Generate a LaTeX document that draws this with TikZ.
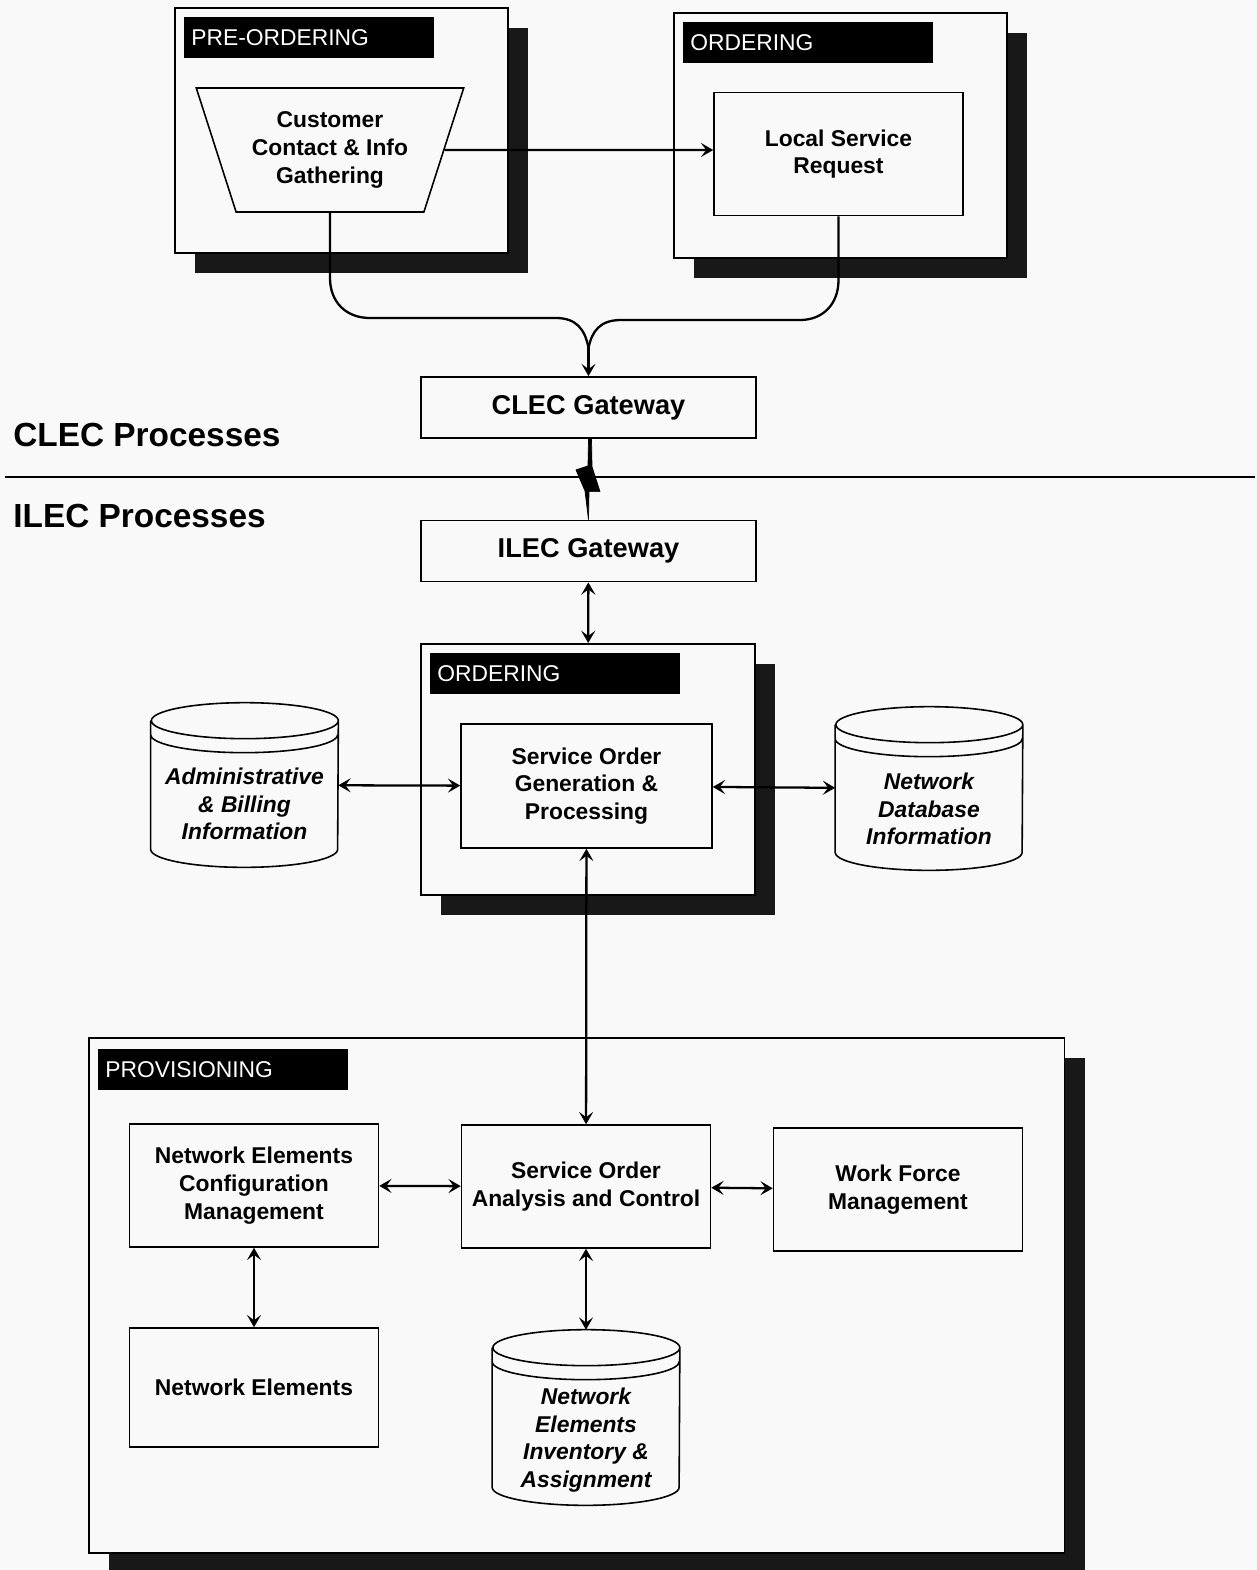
\documentclass[tikz,border=0pt]{standalone}
\usepackage{fontspec}
\setmainfont{Liberation Sans}
\usepackage{tikz}
\usetikzlibrary{arrows.meta}
\usetikzlibrary{shapes.geometric}
\usetikzlibrary{shadows}
\definecolor{paper}{RGB}{249,249,249}
\definecolor{shadowgrey}{RGB}{24,24,24}

\begin{document}
\begin{tikzpicture}[x=0.02cm,y=-0.02cm,>={Stealth[length=7pt,width=8pt,inset=3pt]},
    every node/.append style={font=\bfseries\fontsize{13}{15.8}\selectfont,align=center},
    panel/.style={draw,line width=0.9pt,fill=paper,anchor=north west,
      drop shadow={shadow xshift=0.4cm,shadow yshift=-0.4cm,fill=shadowgrey,opacity=1}},
    tag/.style={fill=black,text=white,anchor=north west,minimum height=0.82cm,
      text width=4.72cm,inner xsep=0.14cm,align=left,font=\fontsize{13}{15.8}\selectfont},
    box/.style={draw,line width=0.9pt,fill=paper,inner sep=2pt,minimum width=4.98cm,minimum height=2.46cm},
    gate/.style={draw,line width=1pt,fill=paper,minimum width=6.7cm,minimum height=1.22cm,
      font=\bfseries\fontsize{15.5}{18}\selectfont},
    db/.style={minimum width=3.74cm,inner sep=0pt},
    dbtext/.style={font=\bfseries\itshape\fontsize{13}{15.6}\selectfont},
    heading/.style={anchor=base west,inner sep=0pt,font=\bfseries\fontsize{19}{22}\selectfont},
    link/.style={line width=1.3pt}]

\fill[paper] (0,0) rectangle (1257,1570);
\useasboundingbox (0,0) rectangle (1257,1570);

\node[panel,minimum width=6.66cm,minimum height=4.9cm] (preord) at (174,7) {};
\node[tag] (pretag) at (184,17) {PRE-ORDERING};
\node[draw,line width=0.9pt,fill=paper,trapezium,shape border rotate=180,trapezium angle=68,
      trapezium stretches=true,minimum width=5.36cm,minimum height=2.48cm] (cust) at (330,150)
      {Customer\\Contact \& Info\\Gathering};

\node[panel,minimum width=6.66cm,minimum height=4.9cm] (ord) at (673,12) {};
\node[tag] (ordtag) at (683,22) {ORDERING};
\node[box] (lsr) at (838.5,154) {Local Service\\Request};

\node[gate] (clec) at (588.5,407.5) {CLEC Gateway};
\node[gate] (ilec) at (588.5,551) {ILEC Gateway};
\coordinate (join) at (588.5,348);

\node[heading] (clecp) at (13,446) {CLEC Processes};
\node[heading] (ilecp) at (13,527) {ILEC Processes};
\draw[line width=0.8pt] (5,477) -- (1255,477);

\node[panel,minimum width=6.68cm,minimum height=5.02cm] (ord2) at (420,643) {};
\node[tag] (ord2tag) at (430,653) {ORDERING};
\node[box,minimum width=5.02cm,minimum height=2.48cm] (sogp) at (586.5,786) {Service Order\\Generation \&\\Processing};

\node[db,minimum height=2.56cm,label={[dbtext,yshift=-0.38cm]center:{Administrative\\\& Billing\\Information}}] (admin) at (244.5,785) {};
\node[db,minimum height=2.54cm,label={[dbtext,yshift=-0.41cm]center:{Network\\Database\\Information}}] (netdb) at (929,788.5) {};

\node[panel,minimum width=19.52cm,minimum height=10.3cm] (prov) at (88,1037) {};
\node[tag] (provtag) at (98,1049) {PROVISIONING};
\node[box] (necm) at (254,1185.5) {Network Elements\\Configuration\\Management};
\node[box] (soac) at (586,1186.5) {Service Order\\Analysis and Control};
\node[box] (wfm) at (898,1189.5) {Work Force\\Management};
\node[box,minimum height=2.38cm] (ne) at (254,1387.5) {Network Elements};
\node[db,minimum height=2.78cm,label={[dbtext,yshift=-0.45cm]center:{Network\\Elements\\Inventory \&\\Assignment}}] (neinv) at (586,1417.5) {};

\foreach \n in {admin,netdb,neinv}
  \draw[line width=0.9pt] (\n.north west) -- (\n.south west)
    arc[start angle=180,end angle=360,x radius=1.87cm,y radius=0.36cm] -- (\n.north east)
    arc[start angle=0,end angle=180,x radius=1.87cm,y radius=0.36cm]
    arc[start angle=180,end angle=360,x radius=1.87cm,y radius=0.36cm]
    ([yshift=-0.28cm]\n.north west) arc[start angle=180,end angle=360,x radius=1.87cm,y radius=0.36cm];

\draw[link,->] (cust) -- (cust -| lsr.west);
\draw[link] (cust) -- (330,278) .. controls (330,302) and (346,318) .. (370,318) -- (556,318)
  .. controls (576,318) and (585,329) .. (join);
\draw[link] (lsr) -- (838.5,280) .. controls (838.5,304) and (823,320) .. (800,320) -- (621,320)
  .. controls (600,320) and (592,331) .. (join);
\draw[link,->] (join) -- (clec);
\fill[draw,line width=0.4pt] (clec.south) -- ++(-0.5,27) -- ++(-12,4) -- ++(9,21) -- (ilec.north)
  -- ++(0.5,-28) -- ++(11,0) -- ++(-8,-25) -- ++(-0.5,-29) -- cycle;
\draw[link,<->] (ilec) -- (ord2);
\draw[link,<->] (admin) -- (sogp);
\draw[link,<->] (sogp) -- (netdb);
\draw[link,<->] (sogp) -- (soac);
\draw[link,<->] (necm) -- (soac);
\draw[link,<->] (soac) -- (wfm);
\draw[link,<->] (necm) -- (ne);
\draw[link,<->] (soac) -- ([yshift=0.36cm]neinv.north);

\end{tikzpicture}
\end{document}
